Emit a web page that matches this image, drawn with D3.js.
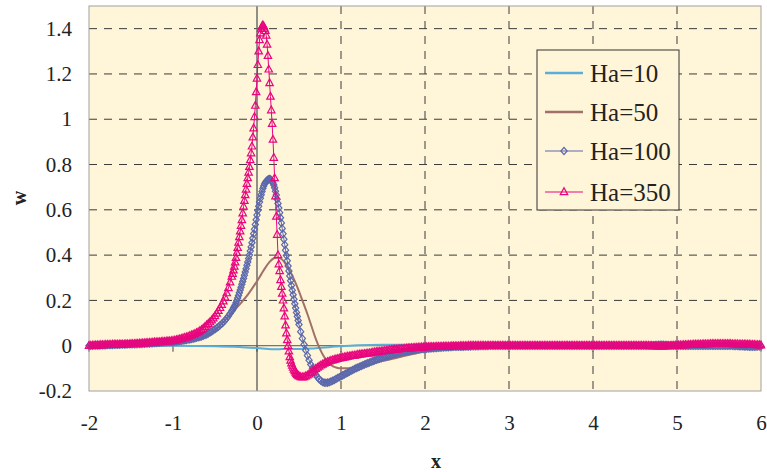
<!DOCTYPE html>
<html>
<head>
<meta charset="utf-8">
<script src="https://cdn.jsdelivr.net/npm/d3@7"></script>
<style>
  body { margin: 0; background: #fff; }
  text { font-family: "Liberation Serif", "DejaVu Serif", "Noto Serif", serif; }
</style>
</head>
<body>
<script>
// sampling grid of the marker series (step 0.02, finer 0.01 around the peak)
var xDense = [].concat(
    d3.range(-2, -0.31, 0.02),
    d3.range(-0.3, 0.505, 0.01),
    d3.range(0.52, 6.001, 0.02)
).map((v) => +v.toFixed(2));

var wHa350 = [
    // -2 .. -1.02
    0, 0, 0.001, 0.001, 0.002, 0.002, 0.002, 0.003, 0.003, 0.003,
    0.004, 0.004, 0.004, 0.004, 0.005, 0.005, 0.005, 0.005, 0.006, 0.006,
    0.006, 0.006, 0.007, 0.007, 0.007, 0.008, 0.008, 0.008, 0.009, 0.009,
    0.01, 0.01, 0.011, 0.011, 0.012, 0.012, 0.013, 0.013, 0.014, 0.015,
    0.015, 0.016, 0.016, 0.017, 0.018, 0.018, 0.019, 0.02, 0.02, 0.021,
    // -1 .. -0.32
    0.022, 0.023, 0.025, 0.027, 0.029, 0.031, 0.033, 0.035, 0.037, 0.04,
    0.043, 0.046, 0.049, 0.052, 0.056, 0.06, 0.065, 0.07, 0.076, 0.083,
    0.09, 0.097, 0.104, 0.112, 0.121, 0.131, 0.142, 0.154, 0.167, 0.181,
    0.196, 0.213, 0.232, 0.255, 0.28,
    // -0.3 .. 0.5
    0.305, 0.318, 0.333, 0.35, 0.368, 0.388, 0.41, 0.432, 0.455, 0.48,
    0.505, 0.53, 0.555, 0.585, 0.615, 0.64, 0.665, 0.69, 0.715, 0.74,
    0.765, 0.79, 0.82, 0.85, 0.88, 0.92, 0.96, 1.01, 1.06, 1.12,
    1.18, 1.24, 1.3, 1.35, 1.38, 1.4, 1.41, 1.415, 1.41, 1.4,
    1.39, 1.37, 1.33, 1.28, 1.22, 1.16, 1.1, 1.04, 0.98, 0.91,
    0.83, 0.74, 0.66, 0.57, 0.49, 0.4, 0.36, 0.33, 0.29, 0.26,
    0.23, 0.2, 0.165, 0.13, 0.09, 0.055, 0.025, 0, -0.025, -0.05,
    -0.065, -0.078, -0.088, -0.097, -0.105, -0.112, -0.118, -0.124, -0.128, -0.132,
    -0.135,
    // 0.52 .. 1.2
    -0.138, -0.139, -0.138, -0.135, -0.131, -0.126, -0.12, -0.114, -0.108, -0.102,
    -0.097, -0.092, -0.087, -0.083, -0.079, -0.075, -0.072, -0.069, -0.066, -0.064,
    -0.062, -0.06, -0.058, -0.056, -0.054, -0.053, -0.051, -0.05, -0.048, -0.047,
    -0.045, -0.044, -0.043, -0.042, -0.04,
    // 1.22 .. 6
    -0.039, -0.038, -0.037, -0.036, -0.035, -0.034, -0.033, -0.032, -0.03, -0.029,
    -0.028, -0.027, -0.026, -0.025, -0.024, -0.023, -0.022, -0.021, -0.02, -0.019,
    -0.018, -0.017, -0.017, -0.016, -0.015, -0.014, -0.014, -0.013, -0.012, -0.011,
    -0.011, -0.01, -0.01, -0.009, -0.009, -0.008, -0.008, -0.007, -0.007, -0.006,
    -0.006, -0.006, -0.005, -0.005, -0.005, -0.005, -0.004, -0.004, -0.004, -0.004,
    -0.003, -0.003, -0.003, -0.003, -0.003, -0.002, -0.002, -0.002, -0.002, -0.002,
    -0.001, -0.001, -0.001, -0.001, -0.001, 0, 0, 0, 0, 0,
    0, 0, 0, 0, 0, 0, 0, 0, 0, 0,
    0, 0, 0, 0, 0, 0, 0, 0, 0, 0,
    0, 0, 0, 0, 0, 0, 0, 0, 0, 0,
    0, 0, 0, 0, 0, 0, 0, 0, 0, 0,
    0, 0, 0, 0, 0, 0, 0, 0, 0, 0,
    0, 0, 0, 0, 0, 0, 0, 0, 0, 0,
    0, 0, 0, 0, 0, 0, 0, 0, 0, 0,
    0, 0, 0, 0, 0, 0, 0, 0, 0, 0,
    0, 0, 0, 0, 0, 0, 0, 0, 0, 0,
    0, 0, 0, 0, 0, 0, 0, 0, 0, 0,
    0, 0, 0, -0.001, -0.001, -0.002, -0.002, -0.003, -0.003, -0.003,
    -0.003, -0.003, -0.002, -0.002, -0.001, -0.001, 0, 0, 0.001, 0.001,
    0.002, 0.002, 0.002, 0.003, 0.003, 0.003, 0.004, 0.004, 0.004, 0.005,
    0.005, 0.005, 0.006, 0.006, 0.006, 0.007, 0.007, 0.007, 0.007, 0.008,
    0.008, 0.008, 0.008, 0.008, 0.008, 0.008, 0.008, 0.008, 0.008, 0.008,
    0.008, 0.008, 0.007, 0.007, 0.007, 0.007, 0.006, 0.006, 0.006, 0.006,
    0.005, 0.005, 0.005, 0.004, 0.004, 0.004, 0.003, 0.003, 0.003, 0.002
];

var wHa100 = [
    // -2 .. -1.02
    0, 0, 0, 0.001, 0.001, 0.001, 0.001, 0.002, 0.002, 0.002,
    0.002, 0.003, 0.003, 0.003, 0.003, 0.004, 0.004, 0.004, 0.004, 0.005,
    0.005, 0.005, 0.005, 0.006, 0.006, 0.006, 0.007, 0.007, 0.007, 0.008,
    0.008, 0.008, 0.009, 0.009, 0.01, 0.01, 0.01, 0.011, 0.011, 0.012,
    0.012, 0.013, 0.013, 0.014, 0.014, 0.015, 0.015, 0.016, 0.016, 0.017,
    // -1 .. -0.32
    0.017, 0.018, 0.019, 0.02, 0.021, 0.022, 0.023, 0.024, 0.025, 0.027,
    0.028, 0.03, 0.031, 0.033, 0.035, 0.037, 0.039, 0.041, 0.044, 0.047,
    0.05, 0.054, 0.058, 0.063, 0.068, 0.073, 0.078, 0.084, 0.09, 0.097,
    0.104, 0.112, 0.121, 0.131, 0.142,
    // -0.3 .. 0.5
    0.153, 0.159, 0.166, 0.173, 0.18, 0.19, 0.2, 0.211, 0.222, 0.234,
    0.246, 0.258, 0.271, 0.284, 0.297, 0.311, 0.325, 0.34, 0.355, 0.37,
    0.385, 0.4, 0.418, 0.436, 0.455, 0.474, 0.494, 0.514, 0.535, 0.556,
    0.577, 0.597, 0.616, 0.634, 0.651, 0.667, 0.681, 0.694, 0.705, 0.714,
    0.721, 0.726, 0.73, 0.733, 0.735, 0.736, 0.735, 0.731, 0.725, 0.718,
    0.71, 0.697, 0.682, 0.665, 0.647, 0.628, 0.608, 0.587, 0.565, 0.542,
    0.518, 0.494, 0.47, 0.446, 0.422, 0.398, 0.375, 0.352, 0.33, 0.308,
    0.287, 0.266, 0.245, 0.225, 0.205, 0.185, 0.166, 0.147, 0.129, 0.111,
    0.094,
    // 0.52 .. 1.2
    0.062, 0.032, 0.005, -0.02, -0.043, -0.064, -0.083, -0.1, -0.115, -0.128,
    -0.139, -0.148, -0.155, -0.16, -0.163, -0.164, -0.163, -0.161, -0.158, -0.155,
    -0.151, -0.147, -0.143, -0.139, -0.135, -0.131, -0.127, -0.123, -0.119, -0.115,
    -0.111, -0.107, -0.103, -0.099, -0.096,
    // 1.22 .. 6
    -0.093, -0.09, -0.086, -0.083, -0.08, -0.077, -0.074, -0.071, -0.068, -0.065,
    -0.062, -0.06, -0.057, -0.055, -0.052, -0.05, -0.048, -0.045, -0.043, -0.041,
    -0.039, -0.037, -0.035, -0.033, -0.031, -0.03, -0.028, -0.027, -0.025, -0.024,
    -0.023, -0.021, -0.02, -0.019, -0.018, -0.017, -0.016, -0.015, -0.015, -0.014,
    -0.013, -0.012, -0.012, -0.011, -0.011, -0.01, -0.01, -0.009, -0.009, -0.008,
    -0.008, -0.007, -0.007, -0.007, -0.006, -0.006, -0.005, -0.005, -0.005, -0.004,
    -0.004, -0.004, -0.004, -0.003, -0.003, -0.003, -0.003, -0.002, -0.002, -0.002,
    -0.002, -0.002, -0.001, -0.001, -0.001, -0.001, -0.001, 0, 0, 0,
    0, 0, 0, 0, 0, 0, 0, 0, 0, 0,
    0, 0, 0, 0, 0, 0, 0, 0, 0, 0,
    0, 0, 0, 0, 0, 0, 0, 0, 0, 0,
    0, 0, 0, 0, 0, 0, 0, 0, 0, 0,
    0, 0, 0, 0, 0, 0, 0, 0, 0, 0,
    0, 0, 0, 0, 0, 0, 0, 0, 0, 0,
    0, 0, 0, 0, 0, 0, 0, 0, 0, 0,
    0, 0, 0, 0, 0, 0, 0, 0, 0, 0,
    0, 0, 0, 0, 0, 0, 0, 0, 0, 0,
    0, 0, 0.001, 0.001, 0.002, 0.002, 0.003, 0.003, 0.004, 0.004,
    0.004, 0.004, 0.003, 0.003, 0.002, 0.002, 0.001, 0.001, 0, 0,
    0, 0, 0, 0, 0, 0, 0, 0, 0, 0,
    0, 0, 0, 0, 0, 0, 0, 0, 0, 0,
    0, 0, 0, 0, 0, 0, 0, 0, 0, 0,
    0, 0, 0, -0.001, -0.001, -0.001, -0.002, -0.002, -0.002, -0.003,
    -0.003, -0.003, -0.004, -0.004, -0.004, -0.004, -0.004, -0.003, -0.003, -0.002
];

// line-only series, sparser
var xHa50 = [-2, -1.5, -1.2, -1, -0.9, -0.8, -0.7, -0.6, -0.5, -0.4, -0.3, -0.2, -0.1,
    0, 0.05, 0.1, 0.15, 0.2, 0.25, 0.3, 0.35, 0.4, 0.45, 0.5, 0.55, 0.6, 0.65, 0.7, 0.75, 0.8, 0.85, 0.9, 0.95, 1,
    1.1, 1.2, 1.3, 1.4, 1.5, 1.6, 1.7, 1.8, 1.9, 2, 2.2, 2.4, 2.6, 2.8, 3, 4, 5, 6];
var wHa50 = [0, 0.001, 0.003, 0.005, 0.01, 0.018, 0.028, 0.045, 0.07, 0.105, 0.145, 0.185, 0.23,
    0.285, 0.315, 0.345, 0.37, 0.386, 0.39, 0.38, 0.355, 0.325, 0.285, 0.24, 0.19, 0.14, 0.085, 0.03, -0.015, -0.05, -0.075, -0.09, -0.097, -0.1,
    -0.099, -0.093, -0.085, -0.076, -0.067, -0.059, -0.05, -0.041, -0.033, -0.025, -0.014, -0.007, -0.003, -0.001, 0, 0, 0, 0];

var xHa10 = [-2, -1, -0.5, -0.2, 0, 0.1, 0.2, 0.3, 0.4, 0.5, 0.6, 0.7, 0.8, 0.9, 1, 1.2, 1.5, 2, 2.5, 3, 4, 5, 6];
var wHa10 = [0, 0, -0.002, -0.006, -0.01, -0.013, -0.016, -0.015, -0.014, -0.015, -0.013, -0.011, -0.008, -0.005, -0.002, 0.002, 0.004, 0.004, 0.003, 0.002, 0.001, 0, 0];

var seriesNames = ["Ha=10", "Ha=50", "Ha=100", "Ha=350"];
var xTicks = [-2, -1, 0, 1, 2, 3, 4, 5, 6];
var yTicks = [-0.2, 0, 0.2, 0.4, 0.6, 0.8, 1, 1.2, 1.4];

var serif = '"Liberation Serif", "DejaVu Serif", "Noto Serif", serif';

// Set the dimensions and margins of the chart
var margin = { top: 6, right: 6, bottom: 81, left: 89 };
var width = 767 - margin.left - margin.right,
    height = 472 - margin.top - margin.bottom;

var svg = d3
    .select("body")
    .append("svg")
    .attr("width", 767)
    .attr("height", 472)
    .attr("font-family", serif)
    .append("g")
    .attr("transform", "translate(" + margin.left + "," + margin.top + ")");

var x = d3.scaleLinear().domain([-2, 6]).range([0, width]);
var y = d3.scaleLinear().domain([-0.2, 1.5]).range([height, 0]);

// plot background
svg.append("rect")
    .attr("width", width)
    .attr("height", height)
    .attr("fill", "#fff5d8");

// dashed grid
svg.selectAll("line.hgrid")
    .data(yTicks.filter((d) => d > 0))
    .enter()
    .append("line")
    .attr("class", "hgrid")
    .attr("x1", 0).attr("x2", width)
    .attr("y1", (d) => y(d)).attr("y2", (d) => y(d))
    .attr("stroke", "#3a3a3a")
    .attr("stroke-dasharray", "8,7");

svg.selectAll("line.vgrid")
    .data(xTicks.filter((d) => d > 0 && d < 6))
    .enter()
    .append("line")
    .attr("class", "vgrid")
    .attr("x1", (d) => x(d)).attr("x2", (d) => x(d))
    .attr("y1", 0).attr("y2", height)
    .attr("stroke", "#3a3a3a")
    .attr("stroke-dasharray", "8,7");

// axes lines through zero
svg.append("line")
    .attr("x1", 0).attr("x2", width)
    .attr("y1", y(0)).attr("y2", y(0))
    .attr("stroke", "#555");
svg.append("line")
    .attr("x1", x(0)).attr("x2", x(0))
    .attr("y1", 0).attr("y2", height)
    .attr("stroke", "#6b6b6b")
    .attr("stroke-width", 1.5);
svg.selectAll("line.xtick")
    .data(xTicks)
    .enter()
    .append("line")
    .attr("class", "xtick")
    .attr("x1", (d) => x(d)).attr("x2", (d) => x(d))
    .attr("y1", y(0)).attr("y2", y(0) + 6)
    .attr("stroke", "#444");

// plot border
svg.append("rect")
    .attr("width", width)
    .attr("height", height)
    .attr("fill", "none")
    .attr("stroke", "#a0a0a0");

// tick labels
var xAxis = svg.append("g")
    .attr("transform", "translate(0," + height + ")")
    .call(d3.axisBottom(x).tickValues(xTicks).tickSize(0).tickPadding(24).tickFormat((d) => d));
var yAxis = svg.append("g")
    .call(d3.axisLeft(y).tickValues(yTicks).tickSize(0).tickPadding(17).tickFormat((d) => d));
[xAxis, yAxis].forEach(function (g) {
    g.attr("font-family", serif).attr("font-size", 21);
    g.select(".domain").remove();
    g.selectAll("text").attr("fill", "#222");
});

// axis titles
svg.append("text")
    .attr("x", 436 - margin.left)
    .attr("y", 468 - margin.top)
    .attr("text-anchor", "middle")
    .style("font-size", "20px")
    .style("font-weight", "bold")
    .attr("fill", "#222")
    .text("x");
svg.append("text")
    .attr("transform", "translate(" + (26 - margin.left) + "," + (198 - margin.top) + ") rotate(-90)")
    .attr("text-anchor", "middle")
    .style("font-size", "20px")
    .style("font-weight", "bold")
    .attr("fill", "#222")
    .text("w");

// ****************** series ***************************
var colors = ["#5aaed8", "#a0716a", "#5b68ac", "#e8067e"];
var diamond = "M0,-3.6L3.1,0L0,3.6L-3.1,0Z";
var triangle = "M0,-4.2L3.7,2.6L-3.7,2.6Z";

function toPoints(xs, ws) {
    var n = Math.min(xs.length, ws.length);
    if (xs.length !== ws.length) console.warn("length mismatch", xs.length, ws.length);
    var pts = [];
    for (var i = 0; i < n; i++) pts.push({ x: xs[i], w: ws[i] });
    return pts;
}

var line = d3.line()
    .x((d) => x(d.x))
    .y((d) => y(d.w));

var series = [
    { name: seriesNames[0], pts: toPoints(xHa10, wHa10), color: colors[0], width: 2, marker: null },
    { name: seriesNames[1], pts: toPoints(xHa50, wHa50), color: colors[1], width: 2, marker: null },
    { name: seriesNames[2], pts: toPoints(xDense, wHa100), color: colors[2], width: 1, marker: diamond },
    { name: seriesNames[3], pts: toPoints(xDense, wHa350), color: colors[3], width: 1, marker: triangle }
];

series.forEach(function (s) {
    svg.append("path")
        .datum(s.pts)
        .attr("fill", "none")
        .attr("stroke", s.color)
        .attr("stroke-width", s.width)
        .attr("d", s.marker ? line.curve(d3.curveLinear)(s.pts) : line.curve(d3.curveMonotoneX)(s.pts));
    if (s.marker) {
        svg.append("g")
            .selectAll("path")
            .data(s.pts)
            .enter()
            .append("path")
            .attr("d", s.marker)
            .attr("transform", (d) => "translate(" + x(d.x) + "," + y(d.w) + ")")
            .attr("fill", "none")
            .attr("stroke", s.color)
            .attr("stroke-width", 1.2);
    }
});

// ****************** legend ***************************
var legend = svg.append("g")
    .attr("transform", "translate(" + (537 - margin.left) + "," + (50 - margin.top) + ")");
legend.append("rect")
    .attr("width", 142)
    .attr("height", 160)
    .attr("fill", "#fff5d8")
    .attr("stroke", "#333");

var item = legend.selectAll("g.item")
    .data(series)
    .enter()
    .append("g")
    .attr("class", "item")
    .attr("transform", (d, i) => "translate(0," + [23, 62, 101, 142][i] + ")");
item.append("line")
    .attr("x1", 8).attr("x2", 46)
    .attr("stroke", (d) => d.color)
    .attr("stroke-width", (d) => d.marker ? 1.2 : 2.5);
item.filter((d) => d.marker)
    .append("path")
    .attr("d", (d) => d.marker)
    .attr("transform", "translate(27,0)")
    .attr("fill", "none")
    .attr("stroke", (d) => d.color)
    .attr("stroke-width", 1.3);
item.append("text")
    .attr("x", 53)
    .attr("dy", "0.35em")
    .style("font-size", "25px")
    .attr("fill", "#222")
    .text((d) => d.name);
</script>
</body>
</html>
